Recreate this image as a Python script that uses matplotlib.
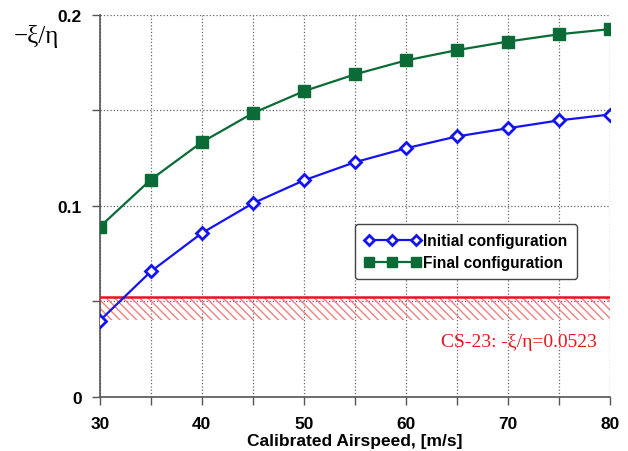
import matplotlib
matplotlib.use('Agg')
import matplotlib.pyplot as plt
from matplotlib.ticker import MultipleLocator, FixedLocator, FixedFormatter

# data
airspeed = [30, 35, 40, 45, 50, 55, 60, 65, 70, 75, 80]
initial_cfg = [0.0399, 0.0656, 0.0857, 0.1013, 0.1133, 0.1228, 0.1301, 0.1363, 0.1406, 0.1447, 0.1478]
final_cfg = [0.0890, 0.1137, 0.1333, 0.1485, 0.1600, 0.1688, 0.1761, 0.1815, 0.1860, 0.1898, 0.1925]
cs23_limit = 0.0523
band_low = 0.040

blue = '#1414f0'
green = '#0b6b36'
red = '#e8141c'
grey = '#555555'

plt.rcParams['font.family'] = ['Liberation Sans', 'DejaVu Sans']

fig = plt.figure(figsize=(6.28, 4.52), dpi=100)
ax = fig.add_axes([0.159, 0.12, 0.812, 0.845])

# CS-23 limit with hatched band below
ax.fill_between([30, 80], band_low, cs23_limit, facecolor='none', edgecolor='#f08080',
                hatch='\\\\\\\\', linewidth=0, zorder=2)
ax.axhline(cs23_limit, color=red, lw=1.8, zorder=3)

ax.plot(airspeed, initial_cfg, color=blue, lw=1.6, marker='D', ms=6,
        mfc='white', mec=blue, mew=2, label='Initial configuration', zorder=5)
ax.plot(airspeed, final_cfg, color=green, lw=1.6, marker='s', ms=8.5,
        mfc=green, mec=green, label='Final configuration', zorder=5)

ax.set_xlim(30, 80)
ax.set_ylim(0, 0.2)
ax.xaxis.set_major_locator(MultipleLocator(10))
ax.xaxis.set_minor_locator(MultipleLocator(5))
ax.yaxis.set_major_locator(FixedLocator([0, 0.1, 0.2]))
ax.yaxis.set_major_formatter(FixedFormatter(['0', '0.1', '0.2']))
ax.yaxis.set_minor_locator(MultipleLocator(0.05))

ax.grid(which='both', ls=':', color='#666666', lw=0.9)
ax.set_axisbelow(True)
for s in ['top', 'right']:
    ax.spines[s].set_visible(False)
for s in ['left', 'bottom']:
    ax.spines[s].set_color(grey)
    ax.spines[s].set_linewidth(1.2)
ax.tick_params(which='both', direction='out', length=6, width=1, color=grey,
               labelsize=12.5)
ax.tick_params(axis='x', pad=8)
ax.tick_params(axis='y', pad=7)
for lbl in ax.get_xticklabels() + ax.get_yticklabels():
    lbl.set_fontweight('bold')

ax.set_xlabel('Calibrated Airspeed, [m/s]', fontsize=12.5, fontweight='bold', labelpad=1)
fig.text(0.022, 0.905, '\u2212\u03be/\u03b7', fontsize=18, family=['Liberation Serif', 'DejaVu Serif'])

ax.text(78.7, 0.0287, 'CS-23: -\u03be/\u03b7=0.0523', ha='right', va='center', color=red,
        fontsize=14, family=['Liberation Serif', 'DejaVu Serif'])

leg = ax.legend(loc='upper right', bbox_to_anchor=(0.945, 0.465),
                prop={'weight': 'bold', 'size': 11.2}, fancybox=True, framealpha=1,
                edgecolor='#444444', handlelength=3.6, handletextpad=0.2,
                borderpad=0.6, borderaxespad=0.3, labelspacing=0.45, markerscale=0.8,
                numpoints=3)
leg.get_frame().set_linewidth(1)

fig.savefig('out.png', dpi=100)
